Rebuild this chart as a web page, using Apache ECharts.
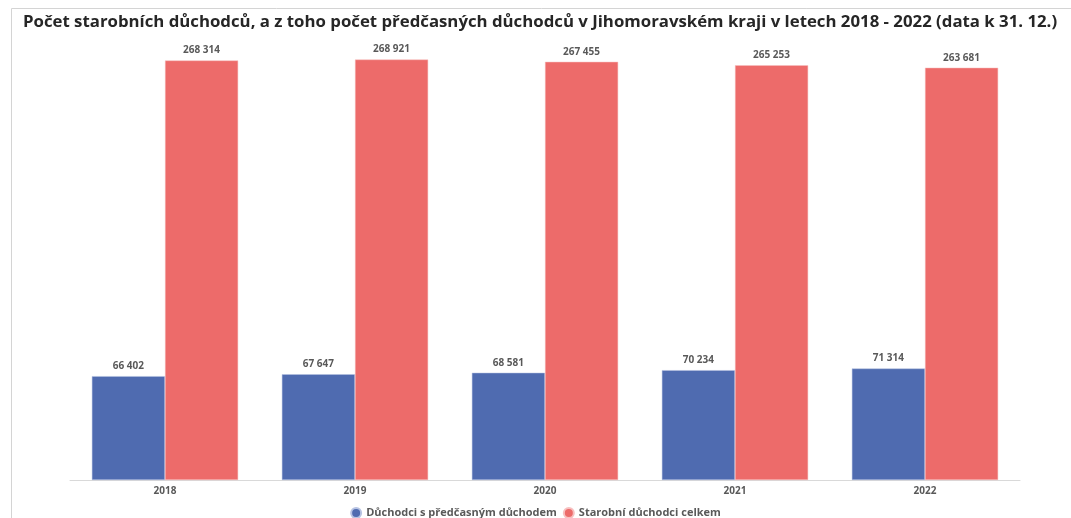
<!DOCTYPE html>
<html>
<head>
<meta charset="utf-8">
<script src="https://cdn.jsdelivr.net/npm/echarts@6/dist/echarts.min.js"></script>
<style>
  html, body { margin: 0; padding: 0; background: #fff; }
  #chart { width: 1071px; height: 518px; }
</style>
</head>
<body>
<div id="chart"></div>
<script>
var years = ['2018', '2019', '2020', '2021', '2022']
var predcasne = [66402, 67647, 68581, 70234, 71314]
var celkem = [268314, 268921, 267455, 265253, 263681]

var fmt = function (p) {
  return String(p.value).replace(/\B(?=(\d{3})+(?!\d))/g, ' ')
}

var myChart = echarts.init(document.getElementById('chart'))
var option = {
  backgroundColor: '#fff',
  textStyle: { fontFamily: 'Open Sans' },
  title: {
    text: 'Počet starobních důchodců, a z toho počet předčasných důchodců v Jihomoravském kraji v letech 2018 - 2022 (data k 31. 12.)',
    left: 18,
    top: 9,
    textStyle: { fontSize: 16.8, fontWeight: 'bold', color: '#262626', fontFamily: 'Open Sans' }
  },
  graphic: [{
    type: 'rect',
    shape: { x: 11.5, y: 8.5, width: 1080, height: 520 },
    style: { fill: 'none', stroke: '#d4d4d4', lineWidth: 1 },
    silent: true
  }],
  legend: {
    top: 502,
    left: 'center',
    icon: 'circle',
    itemWidth: 10,
    itemHeight: 10,
    itemGap: 6,
    textStyle: { fontSize: 11, fontWeight: 'bold', color: '#595959' }
  },
  grid: { left: 70, right: 51, top: 50, bottom: 38 },
  xAxis: {
    type: 'category',
    data: years,
    axisTick: { show: false },
    axisLine: { lineStyle: { color: '#d9d9d9' } },
    axisLabel: { fontSize: 10, fontWeight: 'bold', color: '#595959', margin: 6 }
  },
  yAxis: {
    type: 'value',
    min: 0,
    max: 275000,
    show: false,
    splitLine: { show: false }
  },
  series: [
    {
      name: 'Důchodci s předčasným důchodem',
      type: 'bar',
      data: predcasne,
      barGap: '0%',
      barCategoryGap: '23%',
      itemStyle: { color: '#4f6bb0', borderColor: '#b7c3e3', borderWidth: 0.5 },
      label: { show: true, position: 'top', formatter: fmt, fontSize: 10, fontWeight: 'bold', color: '#595959' }
    },
    {
      name: 'Starobní důchodci celkem',
      type: 'bar',
      data: celkem,
      itemStyle: { color: '#ed6b6a', borderColor: '#f7c0c0', borderWidth: 0.5 },
      label: { show: true, position: 'top', formatter: fmt, fontSize: 10, fontWeight: 'bold', color: '#595959' }
    }
  ]
}
myChart.setOption(option, true)
</script>
</body>
</html>
